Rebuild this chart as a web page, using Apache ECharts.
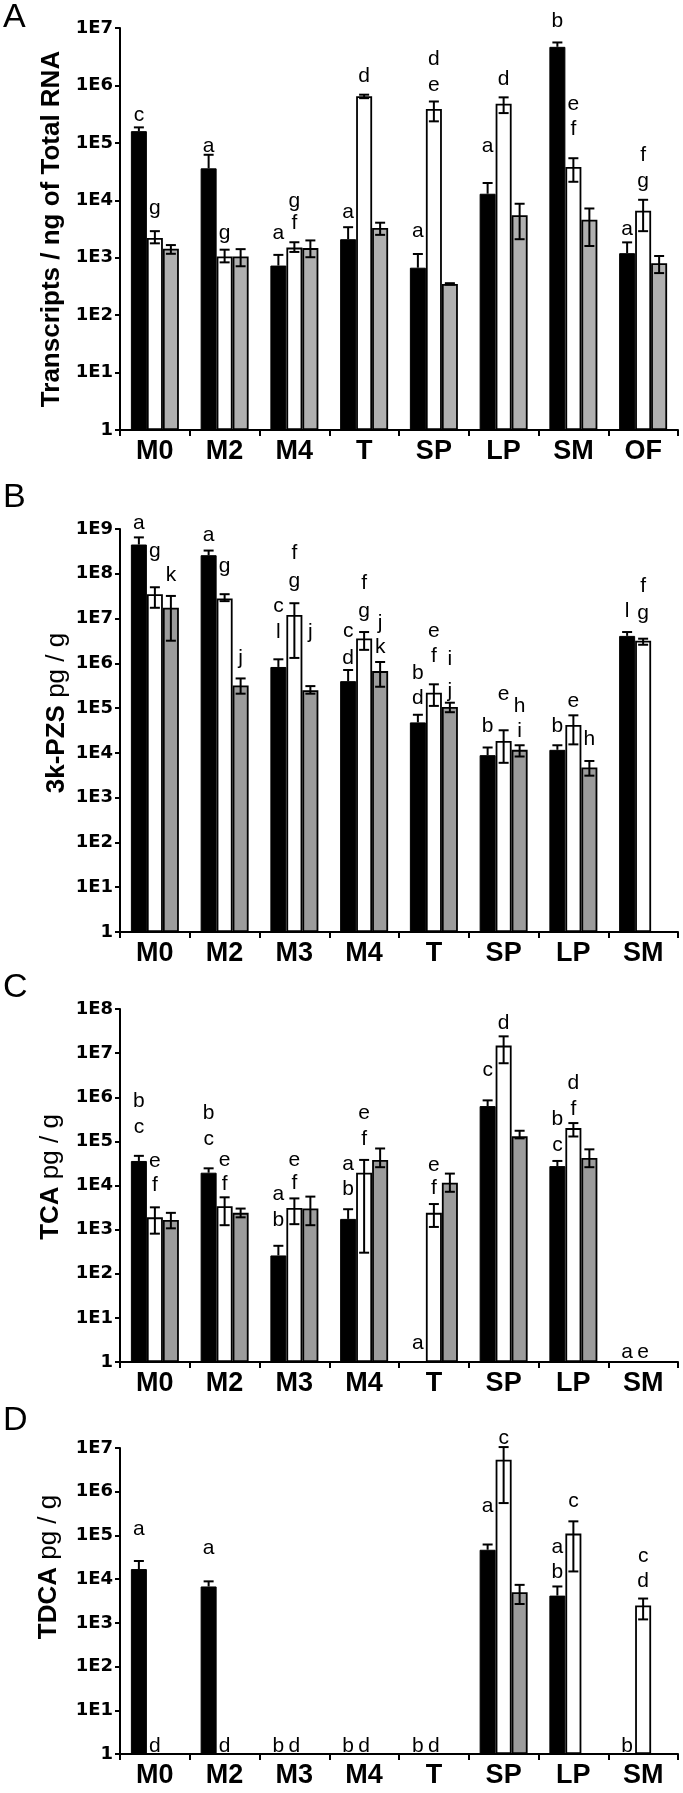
<!DOCTYPE html>
<html><head><meta charset="utf-8">
<script src="https://cdn.jsdelivr.net/npm/echarts@6/dist/echarts.min.js"></script>
<style>html,body{margin:0;padding:0;background:#fff}#c{width:683px;height:1793px}</style>
</head><body><div id="c"></div>
<script>
// ---------- categories ----------
const catsA = ['M0','M2','M4','T','SP','LP','SM','OF'];
const catsB = ['M0','M2','M3','M4','T','SP','LP','SM'];

// ---------- Panel A : Transcripts / ng of Total RNA ----------
const aBlack   = [1.6e5, 3.6e4, 7.3e2, 2.1e3, 6.7e2, 1.3e4, 4.7e6, 1.2e3];
const aBlackHi = [1.86e5, 6.2e4, 1.12e3, 3.4e3, 1.16e3, 2.0e4, 5.6e6, 1.85e3];
const aWhite   = [2.2e3, 1.05e3, 1.5e3, 6.5e5, 3.9e5, 4.8e5, 3.8e4, 6.6e3];
const aWhiteHi = [2.9e3, 1.38e3, 1.86e3, 6.9e5, 5.25e5, 6.2e5, 5.4e4, 1.02e4];
const aWhiteLo = [1.78e3, 8.3e2, 1.26e3, 6.0e5, 2.37e5, 3.3e5, 2.1e4, 2.9e3];
const aGray    = [1.43e3, 1.05e3, 1.47e3, 3.3e3, 3.5e2, 5.5e3, 4.6e3, 8.0e2];
const aGrayHi  = [1.66e3, 1.41e3, 2.0e3, 4.07e3, 3.6e2, 8.7e3, 7.2e3, 1.07e3];
const aGrayLo  = [1.17e3, 7.1e2, 1.02e3, 2.5e3, 3.4e2, 2.1e3, 1.6e3, 5.4e2];
// letters: [category, bar (0 black,1 white,2 gray), letter, log10 height]
const aLetters = [
  [0,0,'c',5.49],[0,1,'g',3.86],
  [1,0,'a',4.94],[1,1,'g',3.43],
  [2,0,'a',3.43],[2,1,'f',3.60],[2,1,'g',3.98],
  [3,0,'a',3.79],[3,1,'d',6.16],
  [4,0,'a',3.46],[4,1,'e',6.0],[4,1,'d',6.46],
  [5,0,'a',4.94],[5,1,'d',6.11],
  [6,0,'b',7.12],[6,1,'f',5.23],[6,1,'e',5.67],
  [7,0,'a',3.49],[7,1,'g',4.33],[7,1,'f',4.79]
];

// ---------- Panel B : 3k-PZS pg / g ----------
const bBlack   = [4.5e8, 2.6e8, 8.3e5, 4.0e5, 4.8e4, 8.9e3, 1.17e4, 4.1e6];
const bBlackHi = [6.5e8, 3.3e8, 1.23e6, 7.1e5, 7.1e4, 1.32e4, 1.48e4, 5.0e6];
const bWhite   = [3.5e7, 2.8e7, 1.2e7, 3.6e6, 2.2e5, 1.85e4, 4.2e4, 3.2e6];
const bWhiteHi = [5.0e7, 3.5e7, 2.2e7, 5.0e6, 3.4e5, 3.2e4, 6.9e4, 3.55e6];
const bWhiteLo = [1.74e7, 2.45e7, 1.32e6, 2.0e6, 1.12e5, 6.0e3, 1.55e4, 2.6e6];
const bGray    = [1.75e7, 3.2e5, 2.5e5, 6.7e5, 1.06e5, 1.17e4, 4.7e3, null];
const bGrayHi  = [3.2e7, 4.6e5, 3.1e5, 1.07e6, 1.32e5, 1.48e4, 6.6e3, null];
const bGrayLo  = [3.2e6, 2.1e5, 2.1e5, 3.0e5, 8.1e4, 8.3e3, 3.1e3, null];
const bLetters = [
  [0,0,'a',9.13],[0,1,'g',8.50],[0,2,'k',7.96],
  [1,0,'a',8.87],[1,1,'g',8.17],[1,2,'j',6.12],
  [2,0,'c',7.28],[2,0,'l',6.70],[2,1,'f',8.47],[2,1,'g',7.83],[2,2,'j',6.70],
  [3,0,'c',6.72],[3,0,'d',6.12],[3,1,'f',7.80],[3,1,'g',7.16],[3,2,'j',6.90],[3,2,'k',6.35],
  [4,0,'b',5.79],[4,0,'d',5.23],[4,1,'e',6.72],[4,1,'f',6.15],[4,2,'i',6.09],[4,2,'j',5.38],
  [5,0,'b',4.60],[5,1,'e',5.31],[5,2,'h',5.05],[5,2,'i',4.49],
  [6,0,'b',4.59],[6,1,'e',5.16],[6,2,'h',4.30],
  [7,0,'l',7.16],[7,1,'f',7.72],[7,1,'g',7.13]
];

// ---------- Panel C : TCA pg / g ----------
const cBlack   = [3.6e4, 1.95e4, 2.6e2, 1.75e3, null, 6.3e5, 2.75e4, null];
const cBlackHi = [4.7e4, 2.45e4, 4.3e2, 2.9e3, null, 8.5e5, 3.6e4, null];
const cWhite   = [1.9e3, 3.4e3, 3.1e3, 1.95e4, 2.4e3, 1.48e7, 2.0e5, null];
const cWhiteHi = [3.2e3, 5.4e3, 5.1e3, 3.8e4, 3.8e3, 2.4e7, 2.6e5, null];
const cWhiteLo = [8.1e2, 1.26e3, 1.33e3, 3.0e2, 1.15e3, 5.9e6, 1.29e5, null];
const cGray    = [1.65e3, 2.4e3, 3.0e3, 3.8e4, 1.15e4, 1.3e5, 4.2e4, null];
const cGrayHi  = [2.4e3, 3.0e3, 5.6e3, 6.9e4, 1.86e4, 1.74e5, 6.6e4, null];
const cGrayLo  = [1.07e3, 1.9e3, 1.26e3, 2.6e4, 7.2e3, 1.17e5, 2.6e4, null];
const cLetters = [
  [0,0,'b',5.90],[0,0,'c',5.32],[0,1,'e',4.56],[0,1,'f',4.01],
  [1,0,'b',5.64],[1,0,'c',5.05],[1,1,'e',4.58],[1,1,'f',4.03],
  [2,0,'a',3.81],[2,0,'b',3.22],[2,1,'e',4.58],[2,1,'f',4.06],
  [3,0,'a',4.49],[3,0,'b',3.91],[3,1,'e',5.64],[3,1,'f',5.05],
  [4,0,'a',0.43],[4,1,'e',4.46],[4,1,'f',3.93],
  [5,0,'c',6.61],[5,1,'d',7.68],
  [6,0,'b',5.50],[6,0,'c',4.92],[6,1,'d',6.32],[6,1,'f',5.73],
  [7,0,'a',0.23],[7,1,'e',0.23]
];

// ---------- Panel D : TDCA pg / g ----------
const dBlack   = [1.7e4, 6.8e3, null, null, null, 4.7e4, 4.2e3, null];
const dBlackHi = [2.6e4, 8.9e3, null, null, null, 6.2e4, 6.8e3, null];
const dWhite   = [null, null, null, null, null, 5.4e6, 1.1e5, 2.5e3];
const dWhiteHi = [null, null, null, null, null, 1.05e7, 2.1e5, 3.6e3];
const dWhiteLo = [null, null, null, null, null, 5.5e5, 1.5e4, 1.2e3];
const dGray    = [null, null, null, null, null, 5.0e3, null, null];
const dGrayHi  = [null, null, null, null, null, 7.4e3, null, null];
const dGrayLo  = [null, null, null, null, null, 2.7e3, null, null];
const dLetters = [
  [0,0,'a',5.15],[0,1,'d',0.18],
  [1,0,'a',4.71],[1,1,'d',0.18],
  [2,0,'b',0.18],[2,1,'d',0.18],
  [3,0,'b',0.18],[3,1,'d',0.18],
  [4,0,'b',0.18],[4,1,'d',0.18],
  [5,0,'a',5.66],[5,1,'c',7.23],
  [6,0,'a',4.73],[6,0,'b',4.15],[6,1,'c',5.78],
  [7,0,'b',0.18],[7,1,'d',3.95],[7,1,'c',4.52]
];

// ---------- axis maxima / titles ----------
const axisMax = [1e7, 1e9, 1e8, 1e7];
const titles = ['Transcripts / ng of Total RNA', '3k-PZS', 'TCA', 'TDCA'];
const panelLetters = ['A','B','C','D'];

// ---------- layout (styles, not data) ----------
const layout = [
  {top: 28,   height: 402, title: [52, 229], letter: [3, 1],    gray: '#b0b0b0'},
  {top: 529,  height: 403, title: [57, 713], letter: [3, 481],  gray: '#9c9c9c'},
  {top: 1009, height: 353, title: [51, 1177], letter: [3, 971], gray: '#9c9c9c'},
  {top: 1448, height: 306, title: [49, 1567], letter: [3, 1404],gray: '#9c9c9c'}
];
const BW = 16;

const panels = [
  {cats: catsA, blk: aBlack, blkHi: aBlackHi, wht: aWhite, whtHi: aWhiteHi, whtLo: aWhiteLo, gry: aGray, gryHi: aGrayHi, gryLo: aGrayLo, letters: aLetters},
  {cats: catsB, blk: bBlack, blkHi: bBlackHi, wht: bWhite, whtHi: bWhiteHi, whtLo: bWhiteLo, gry: bGray, gryHi: bGrayHi, gryLo: bGrayLo, letters: bLetters},
  {cats: catsB, blk: cBlack, blkHi: cBlackHi, wht: cWhite, whtHi: cWhiteHi, whtLo: cWhiteLo, gry: cGray, gryHi: cGrayHi, gryLo: cGrayLo, letters: cLetters},
  {cats: catsB, blk: dBlack, blkHi: dBlackHi, wht: dWhite, whtHi: dWhiteHi, whtLo: dWhiteLo, gry: dGray, gryHi: dGrayHi, gryLo: dGrayLo, letters: dLetters}
];

const FONT = 'Liberation Sans, Arial, sans-serif';
const grids = [], xAxes = [], yAxes = [], series = [], graphics = [];

panels.forEach((p, i) => {
  const L = layout[i];
  grids.push({left: 120, width: 558, top: L.top, height: L.height});
  xAxes.push({
    type: 'category', gridIndex: i, data: p.cats,
    axisLine: {lineStyle: {color: '#000', width: 2}},
    axisTick: {show: true, length: 6, lineStyle: {color: '#000', width: 2}},
    axisLabel: {color: '#000', fontFamily: FONT, fontWeight: 'bold', fontSize: 27, margin: 8, interval: 0},
    splitLine: {show: false}
  });
  yAxes.push({
    type: 'log', logBase: 10, gridIndex: i, min: 1, max: axisMax[i], splitNumber: 10,
    axisLine: {show: true, lineStyle: {color: '#000', width: 2}},
    axisTick: {show: true, length: 5, lineStyle: {color: '#000', width: 2}},
    axisLabel: {color: '#000', fontFamily: 'DejaVu Sans, sans-serif', fontWeight: 'bold', fontSize: 18, margin: 7,
      formatter: v => v <= 1.0001 ? '1' : '1E' + Math.round(Math.log10(v))},
    splitLine: {show: false}
  });
  const toBar = arr => arr.map(v => v == null ? '-' : v);
  const common = {type: 'bar', xAxisIndex: i, yAxisIndex: i, barWidth: BW, barGap: '0%', animation: false};
  series.push(Object.assign({}, common, {name: 'black' + i, data: toBar(p.blk), itemStyle: {color: '#000', borderColor: '#000', borderWidth: 1}}));
  series.push(Object.assign({}, common, {name: 'white' + i, data: toBar(p.wht), itemStyle: {color: '#fff', borderColor: '#000', borderWidth: 1.8}}));
  series.push(Object.assign({}, common, {name: 'gray' + i, data: toBar(p.gry), itemStyle: {color: L.gray, borderColor: '#000', borderWidth: 1.8}}));

  // error bars
  const err = [];
  p.cats.forEach((c, k) => {
    if (p.blkHi[k] != null) err.push([k, 0, p.blk[k], p.blkHi[k]]);
    if (p.whtHi[k] != null) err.push([k, 1, p.whtLo[k], p.whtHi[k]]);
    if (p.gryHi[k] != null) err.push([k, 2, p.gryLo[k], p.gryHi[k]]);
  });
  series.push({
    type: 'custom', xAxisIndex: i, yAxisIndex: i, z: 5, animation: false, silent: true,
    encode: {x: 0, y: [2, 3]},
    data: err,
    renderItem: (params, api) => {
      const cat = api.value(0), b = api.value(1);
      const hi = api.coord([cat, api.value(3)]);
      const lo = api.coord([cat, api.value(2)]);
      const x = hi[0] + (b - 1) * BW;
      const st = {stroke: '#000', lineWidth: 2};
      const cw = 5;
      const kids = [
        {type: 'line', shape: {x1: x, y1: hi[1], x2: x, y2: lo[1]}, style: st},
        {type: 'line', shape: {x1: x - cw, y1: hi[1], x2: x + cw, y2: hi[1]}, style: st}
      ];
      if (b !== 0) kids.push({type: 'line', shape: {x1: x - cw, y1: lo[1], x2: x + cw, y2: lo[1]}, style: st});
      return {type: 'group', children: kids};
    }
  });

  // significance letters
  const lt = p.letters;
  series.push({
    type: 'custom', xAxisIndex: i, yAxisIndex: i, z: 6, animation: false, silent: true,
    encode: {x: 0, y: 2},
    data: lt.map(r => [r[0], r[1], Math.pow(10, r[3])]),
    renderItem: (params, api) => {
      const cat = api.value(0), b = api.value(1);
      const pt = api.coord([cat, api.value(2)]);
      return {type: 'text', x: pt[0] + (b - 1) * BW, y: pt[1],
        style: {text: lt[params.dataIndex][2], font: '21px ' + FONT, fill: '#000', align: 'center', verticalAlign: 'middle'}};
    }
  });

  graphics.push({type: 'text', x: L.letter[0], y: L.letter[1],
    style: {text: panelLetters[i], font: '34px ' + FONT, fill: '#000', align: 'left', verticalAlign: 'top'}});
  const titleText = i === 0 ? '{b|' + titles[0] + '}' : '{b|' + titles[i] + '}{n| pg / g}';
  graphics.push({type: 'text', x: L.title[0], y: L.title[1], rotation: Math.PI / 2,
    style: {text: titleText, align: 'center', verticalAlign: 'middle', fill: '#000',
      rich: {b: {font: 'bold 26px ' + FONT, fill: '#000'}, n: {font: '26px ' + FONT, fill: '#000'}}}});
});

const chart = echarts.init(document.getElementById('c'), null, {renderer: 'canvas'});
chart.setOption({
  backgroundColor: '#fff',
  animation: false,
  grid: grids, xAxis: xAxes, yAxis: yAxes, series: series, graphic: graphics
});
</script></body></html>
